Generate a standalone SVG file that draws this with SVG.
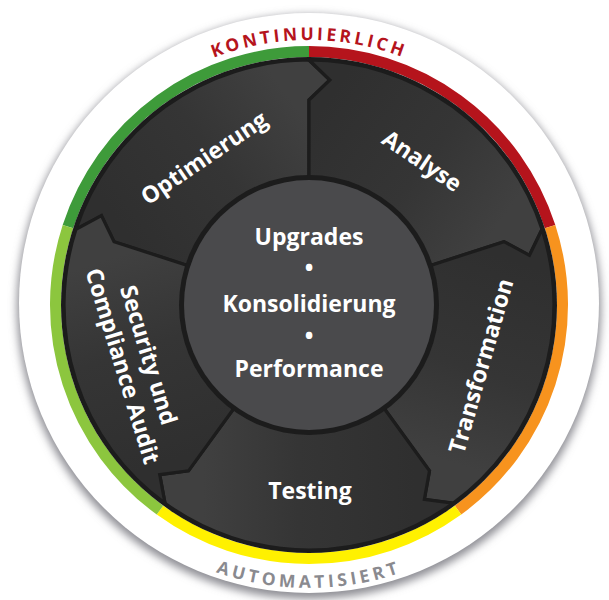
<svg xmlns="http://www.w3.org/2000/svg" width="609" height="600" viewBox="0 0 609 600">
  <style>
    .piece { stroke: #1c1c1c; stroke-width: 3.2; stroke-linejoin: miter; }
    .seg { fill: none; stroke-width: 11; }
    .lbl { font-family: "Open Sans", "Liberation Sans", sans-serif; font-weight: 700; font-size: 23px; fill: #ffffff; text-anchor: middle; }
    .ctr { font-family: "Open Sans", "Liberation Sans", sans-serif; font-weight: 700; font-size: 23px; fill: #ffffff; text-anchor: middle; }
    .arc { font-family: "Open Sans", "Liberation Sans", sans-serif; font-weight: 700; font-size: 17.5px; }
  </style>
  <defs>
    <filter id="sh" x="-10%" y="-10%" width="120%" height="120%">
      <feGaussianBlur stdDeviation="4"/>
    </filter>
    <linearGradient id="gOpt" gradientUnits="userSpaceOnUse" x1="137.81" y1="249.38" x2="309" y2="125">
      <stop offset="0" stop-color="#2f2f2f"/><stop offset="0.55" stop-color="#353535"/><stop offset="1" stop-color="#404040"/>
    </linearGradient>
    <linearGradient id="gAna" gradientUnits="userSpaceOnUse" x1="309" y1="125" x2="480.19" y2="249.38">
      <stop offset="0" stop-color="#2f2f2f"/><stop offset="0.55" stop-color="#353535"/><stop offset="1" stop-color="#404040"/>
    </linearGradient>
    <linearGradient id="gTra" gradientUnits="userSpaceOnUse" x1="480.19" y1="249.38" x2="414.80" y2="450.62">
      <stop offset="0" stop-color="#2f2f2f"/><stop offset="0.55" stop-color="#353535"/><stop offset="1" stop-color="#404040"/>
    </linearGradient>
    <linearGradient id="gTes" gradientUnits="userSpaceOnUse" x1="414.80" y1="450.62" x2="203.20" y2="450.62">
      <stop offset="0" stop-color="#2f2f2f"/><stop offset="0.55" stop-color="#353535"/><stop offset="1" stop-color="#404040"/>
    </linearGradient>
    <linearGradient id="gSec" gradientUnits="userSpaceOnUse" x1="203.20" y1="450.62" x2="137.81" y2="249.38">
      <stop offset="0" stop-color="#2f2f2f"/><stop offset="0.55" stop-color="#353535"/><stop offset="1" stop-color="#404040"/>
    </linearGradient>
    <path id="topArc" d="M44,305 A265,265 0 0 1 574,305"/>
    <path id="botArc" d="M26,305 A283,283 0 0 0 592,305"/>
  </defs>

  <!-- outer white disc with shadow -->
  <g id="frame">
    <circle cx="309" cy="307" r="292" fill="#8e8e94" filter="url(#sh)"/>
    <circle cx="309" cy="303" r="290" fill="#ffffff"/>
  </g>

  <!-- coloured ring -->
  <g id="ring">
    <path class="seg" stroke="#3e9b3a" d="M67.91,226.66 A253.5,253.5 0 0 1 309,51.5"/>
    <path class="seg" stroke="#b5141c" d="M309,51.5 A253.5,253.5 0 0 1 550.09,226.66"/>
    <path class="seg" stroke="#f7931e" d="M550.09,226.66 A253.5,253.5 0 0 1 458.01,510.09"/>
    <path class="seg" stroke="#fff100" d="M458.01,510.09 A253.5,253.5 0 0 1 159.99,510.09"/>
    <path class="seg" stroke="#8cc63e" d="M159.99,510.09 A253.5,253.5 0 0 1 67.91,226.66"/>
  </g>

  <circle id="wheel" cx="309" cy="305" r="248" fill="#1c1c1c"/>

  <g id="optimierung">
    <path class="piece" fill="url(#gOpt)" d="M204.38,271.01 L114.03,241.65 L101.43,215.61 L75.99,229.29 A245,245 0 0 1 309,60 L329.88,79.97 L309,100 L309,195 A110,110 0 0 0 204.38,271.01 Z"/>
    <text class="lbl" transform="translate(204,158) rotate(-34)" y="8">Optimierung</text>
  </g>
  <g id="analyse">
    <path class="piece" fill="url(#gAna)" d="M309,195 L309,100 L329.88,79.97 L309,60 A245,245 0 0 1 542.01,229.29 L529.47,255.31 L503.97,241.65 L413.62,271.01 A110,110 0 0 0 309,195 Z"/>
    <text class="lbl" transform="translate(422,161) rotate(34)" y="8">Analyse</text>
  </g>
  <g id="transformation">
    <path class="piece" fill="url(#gTra)" d="M413.62,271.01 L503.97,241.65 L529.47,255.31 L542.01,229.29 A245,245 0 0 1 453.01,503.21 L424.38,499.33 L429.50,470.85 L373.66,393.99 A110,110 0 0 0 413.62,271.01 Z"/>
    <text class="lbl" transform="translate(481,366) rotate(-74)" y="8">Transformation</text>
  </g>
  <g id="testing">
    <path class="piece" fill="url(#gTes)" d="M373.66,393.99 L429.50,470.85 L424.38,499.33 L453.01,503.21 A245,245 0 0 1 164.99,503.21 L159.74,474.70 L188.50,470.85 L244.34,393.99 A110,110 0 0 0 373.66,393.99 Z"/>
    <text class="lbl" x="310" y="499">Testing</text>
  </g>
  <g id="security">
    <path class="piece" fill="url(#gSec)" d="M244.34,393.99 L188.50,470.85 L159.74,474.70 L164.99,503.21 A245,245 0 0 1 75.99,229.29 L101.43,215.61 L114.03,241.65 L204.38,271.01 A110,110 0 0 0 244.34,393.99 Z"/>
    <text class="lbl" transform="translate(136,362) rotate(73)">
      <tspan x="0" y="-6">Security und</tspan>
      <tspan x="0" y="22">Compliance Audit</tspan>
    </text>
  </g>

  <g id="center">
    <circle cx="309" cy="305" r="130" fill="#1c1c1c"/>
    <circle cx="309" cy="305" r="125" fill="#4a4a4c"/>
    <text class="ctr" x="309" y="245">Upgrades</text>
    <text class="ctr" x="309" y="276" font-size="16">•</text>
    <text class="ctr" x="309" y="312">Konsolidierung</text>
    <text class="ctr" x="309" y="344" font-size="16">•</text>
    <text class="ctr" x="309" y="377">Performance</text>
  </g>

  <g id="captions">
    <text class="arc" fill="#b5141c" letter-spacing="3.2"><textPath href="#topArc" startOffset="50%" text-anchor="middle">KONTINUIERLICH</textPath></text>
    <text class="arc" fill="#8a8a8f" letter-spacing="3.8"><textPath href="#botArc" startOffset="50%" text-anchor="middle">AUTOMATISIERT</textPath></text>
  </g>
</svg>
